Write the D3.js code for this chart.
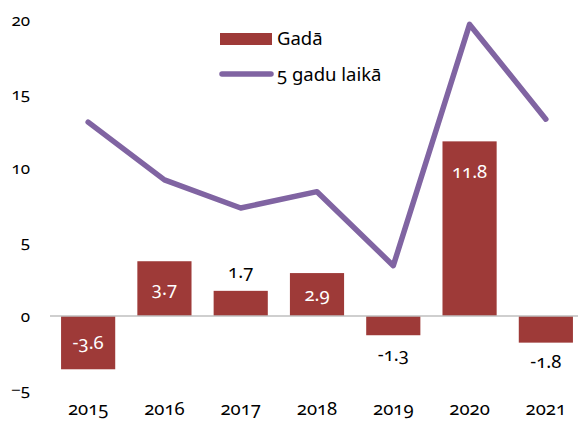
<!DOCTYPE html>
<html><head><meta charset="utf-8">
<script src="https://cdn.jsdelivr.net/npm/d3@7"></script>
<style>
body{margin:0;background:#fff;}
svg text{font-family:"Noto Sans",Lato,sans-serif;font-variant-numeric:oldstyle-nums;font-feature-settings:"onum";}
</style></head>
<body><svg id="c" width="578" height="428"></svg>
<script>
const years = ["2015","2016","2017","2018","2019","2020","2021"];
const annual = [-3.6, 3.7, 1.7, 2.9, -1.3, 11.8, -1.8];
const fiveYear = [13.1, 9.2, 7.3, 8.4, 3.4, 19.7, 13.3];
const yTicks = [-5, 0, 5, 10, 15, 20];
const legendLabels = ["Gadā", "5 gadu laikā"];

const barColor = "#9e3a38", lineColor = "#8064a2";
const svg = d3.select("#c");
const x = d3.scaleBand().domain(years).range([50, 584]).paddingInner(0.29).paddingOuter(0.145);
const y = d3.scaleLinear().domain([-5, 20]).range([390, 20]);

// y axis labels
const yAxis = d3.axisLeft(y).tickValues(yTicks).tickSize(0).tickPadding(0).tickFormat(d3.format("d"));
const ga = svg.append("g").attr("transform","translate(30,0)").call(yAxis);
ga.select(".domain").remove();
ga.selectAll("text").attr("font-size",17).attr("fill","#000");

// bars
svg.selectAll("rect.bar").data(annual).join("rect")
  .attr("class","bar")
  .attr("x",(d,i)=>x(years[i]))
  .attr("width",x.bandwidth())
  .attr("y",d=>y(Math.max(0,d)))
  .attr("height",d=>Math.abs(y(d)-y(0)))
  .attr("fill",barColor);

// zero line
svg.append("line").attr("x1",50).attr("x2",578).attr("y1",y(0)).attr("y2",y(0))
  .attr("stroke","#bfbfbf").attr("stroke-width",1.5);

// x axis labels
const xAxis = d3.axisBottom(x).tickSize(0).tickPadding(0);
const gx = svg.append("g").attr("transform","translate(0,409)").call(xAxis);
gx.select(".domain").remove();
gx.selectAll("text").attr("font-size",18.5).attr("fill","#000").attr("dy","0.35em");

// line
svg.append("path").datum(fiveYear)
  .attr("d",d3.line().x((d,i)=>x(years[i])+x.bandwidth()/2).y(d=>y(d)))
  .attr("fill","none").attr("stroke",lineColor).attr("stroke-width",5.5).attr("stroke-linejoin","round").attr("stroke-linecap","round");

// value labels
svg.selectAll("text.val").data(annual).join("text")
  .attr("class","val")
  .attr("x",(d,i)=>x(years[i])+x.bandwidth()/2)
  .attr("y",d=>{
    const len = Math.abs(y(d)-y(0));
    const s = d>=0?1:-1;
    if(len<35) return y(d) - s*19;
    if(len<70) return (y(d)+y(0))/2;
    return y(d) + s*30;
  })
  .attr("dy","0.35em").attr("text-anchor","middle").attr("font-size",18.5)
  .attr("fill",d=>Math.abs(y(d)-y(0))<35?"#000":"#fff")
  .text(d=>d.toFixed(1));

// legend
const lg = svg.append("g");
lg.append("rect").attr("x",220).attr("y",33).attr("width",52).attr("height",12).attr("fill",barColor);
lg.append("text").attr("x",277).attr("y",39).attr("dy","0.35em").attr("font-size",18.5).text(legendLabels[0]);
lg.append("line").attr("x1",222).attr("x2",271).attr("y1",74).attr("y2",74).attr("stroke",lineColor).attr("stroke-width",5.5).attr("stroke-linecap","round");
lg.append("text").attr("x",277).attr("y",75).attr("dy","0.35em").attr("font-size",18.5).text(legendLabels[1]);
</script></body></html>
